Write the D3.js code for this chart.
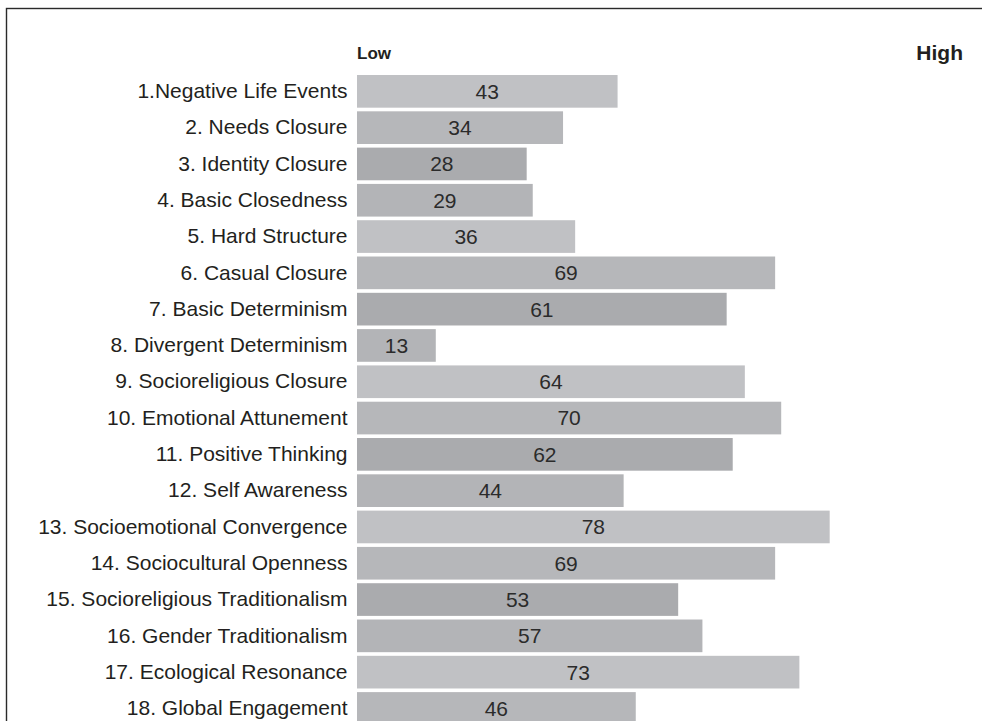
<!DOCTYPE html>
<html>
<head>
<meta charset="utf-8">
<script src="https://cdn.jsdelivr.net/npm/d3@7/dist/d3.min.js"></script>
<style>
  html, body { margin: 0; padding: 0; background: #fff; }
  svg { display: block; font-family: "Liberation Sans", Arial, Helvetica, sans-serif; }
</style>
</head>
<body>
<svg id="chart" width="982" height="721"></svg>
<script>
// Scale items and their scores (0 = low, 100 = high)
const categories = [
  "1.Negative Life Events",
  "2. Needs Closure",
  "3. Identity Closure",
  "4. Basic Closedness",
  "5. Hard Structure",
  "6. Casual Closure",
  "7. Basic Determinism",
  "8. Divergent Determinism",
  "9. Socioreligious Closure",
  "10. Emotional Attunement",
  "11. Positive Thinking",
  "12. Self Awareness",
  "13. Socioemotional Convergence",
  "14. Sociocultural Openness",
  "15. Socioreligious Traditionalism",
  "16. Gender Traditionalism",
  "17. Ecological Resonance",
  "18. Global Engagement"
];
const scores = [43, 34, 28, 29, 36, 69, 61, 13, 64, 70, 62, 44, 78, 69, 53, 57, 73, 46];
const scaleEnds = ["Low", "High"];

// Grey shades cycle through the rows
const shades = ["#c0c1c4", "#b6b7ba", "#aaabae", "#b3b4b7"];

const svg = d3.select("#chart");

// Outer frame (open at the right and bottom edges of the page)
svg.append("rect")
  .attr("x", 6.5).attr("y", 8.5)
  .attr("width", 1000).attr("height", 760)
  .attr("fill", "none")
  .attr("stroke", "#2a2a2a")
  .attr("stroke-width", 1.4);

const x = d3.scaleLinear().domain([0, 100]).range([357, 963]);
const y = d3.scaleBand()
  .domain(categories)
  .range([73.2, 726.6])
  .paddingInner(0.1)
  .paddingOuter(0.05);

const rows = svg.append("g")
  .selectAll("g")
  .data(categories.map((c, i) => ({ c, v: scores[i], i })))
  .join("g");

rows.append("rect")
  .attr("x", x(0))
  .attr("y", d => y(d.c))
  .attr("width", d => x(d.v) - x(0))
  .attr("height", y.bandwidth())
  .attr("fill", d => shades[d.i % shades.length]);

rows.append("text")
  .attr("x", d => (x(0) + x(d.v)) / 2)
  .attr("y", d => y(d.c) + y.bandwidth() / 2)
  .attr("dy", "0.35em")
  .attr("text-anchor", "middle")
  .attr("font-size", 21)
  .attr("fill", "#2b2b2b")
  .text(d => d.v);

// Category labels on the left
const yAxis = d3.axisLeft(y).tickSize(0).tickPadding(0);
const axisG = svg.append("g")
  .attr("transform", `translate(${x(0) - 9.5},0)`)
  .call(yAxis);
axisG.select(".domain").remove();
axisG.selectAll("text")
  .attr("font-size", 21)
  .attr("font-family", "\"Liberation Sans\", Arial, Helvetica, sans-serif")
  .attr("fill", "#231f20");

// Scale end labels
svg.append("text")
  .attr("x", x(0)).attr("y", 59)
  .attr("font-size", 17).attr("font-weight", "bold")
  .attr("fill", "#231f20")
  .text(scaleEnds[0]);
svg.append("text")
  .attr("x", x(100)).attr("y", 60)
  .attr("text-anchor", "end")
  .attr("font-size", 21).attr("font-weight", "bold")
  .attr("fill", "#231f20")
  .text(scaleEnds[1]);
</script>
</body>
</html>
